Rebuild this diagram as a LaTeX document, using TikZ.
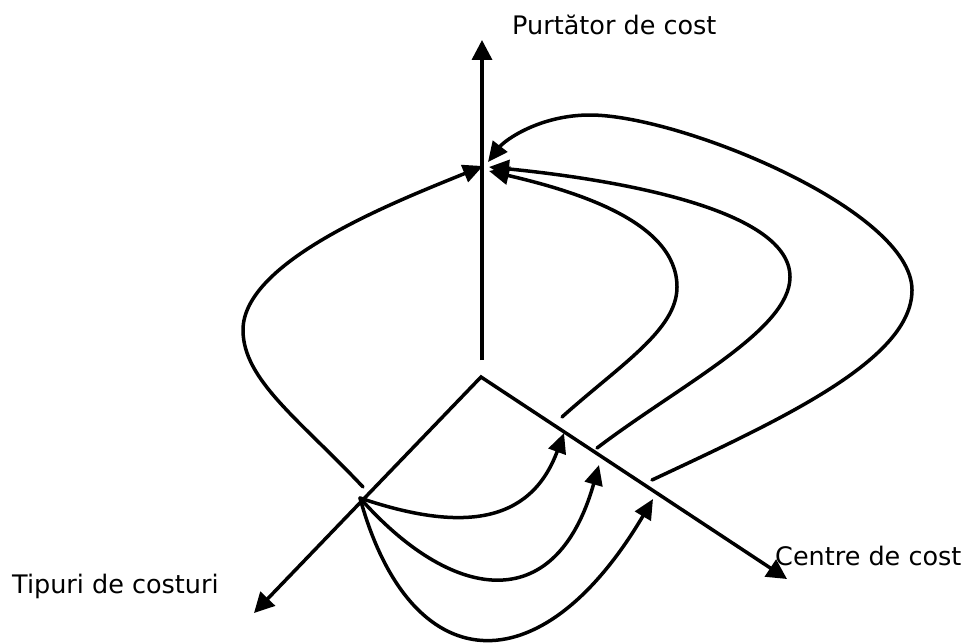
\documentclass[tikz,border=0pt]{standalone}
\usepackage{fontspec}
\setmainfont{DejaVu Sans}
\usetikzlibrary{arrows.meta,calc}
\tikzset{
	axe/.style={draw=black,line width=3.5pt,-{Triangle[length=20pt,width=20pt]}},
	axes2/.style={draw=black,line width=3.5pt,line join=miter,
		{Triangle[length=20pt,width=20pt]}-{Triangle[length=20pt,width=20pt]}},
	flux/.style={draw=black,line width=3.5pt,line cap=round,-{Triangle[length=20pt,width=18pt]}},
	lbl/.style={font=\fontsize{25.5}{30}\selectfont,anchor=base west,inner sep=0pt},
}

\begin{document}
\begin{tikzpicture}[x=1pt,y=-1pt]
			\useasboundingbox (0,0) rectangle (968,642);
			% axes
			\coordinate (vb) at (482,360);
			\coordinate (vt) at (482,40);
			\coordinate (o) at (481,377);
			\coordinate (tl) at (254,613);
			\coordinate (cr) at (787,579);
			\draw[axe] (vb)--(vt);
			\draw[axes2] (tl) -- (o) -- (cr);
			\node[lbl] (purtator) at (512,35) {Purtător de cost};
			\node[lbl] (centre) at (775,565) {Centre de cost};
			\node[lbl] (tipuri) at (12,593) {Tipuri de costuri};
			% points
			\coordinate (s) at (360,498);
			\coordinate (p) at (483,166);
			\coordinate (c1) at (564,433);
			\coordinate (c2) at (599,465);
			\coordinate (c3) at (653,499);
			\coordinate (l0) at (363,487);
			\coordinate (r1) at (562,417);
			\coordinate (r2) at (597,448);
			\coordinate (r3) at (652,480);
			% costs to centres
			\draw[flux] (s) .. controls (460,532) and (530,525) .. (c1);
			\draw[flux] (s) .. controls (450,600) and (555,620) .. (c2);
			\draw[flux] (s) .. controls (410,680) and (540,690) .. (c3);
			% loops to the carrier
			\draw[flux] (l0) .. controls (300,420) and (243,380) .. (243,330)
				.. controls (243,260) and (400,200) .. (p);
			\draw[flux] (r1) .. controls (620,365) and (677,330) .. (677,287)
				.. controls (677,220) and (570,190) .. ($(p)+(6,5)$);
			\draw[flux] (r2) .. controls (680,385) and (790,330) .. (790,277)
				.. controls (790,210) and (620,180) .. ($(p)+(6,1)$);
			\draw[flux] (r3) .. controls (780,420) and (912,360) .. (912,290)
				.. controls (912,210) and (680,115) .. (590,115)
				.. controls (540,115) and (505,140) .. ($(p)+(5,-4)$);
		\end{tikzpicture}
\end{document}
